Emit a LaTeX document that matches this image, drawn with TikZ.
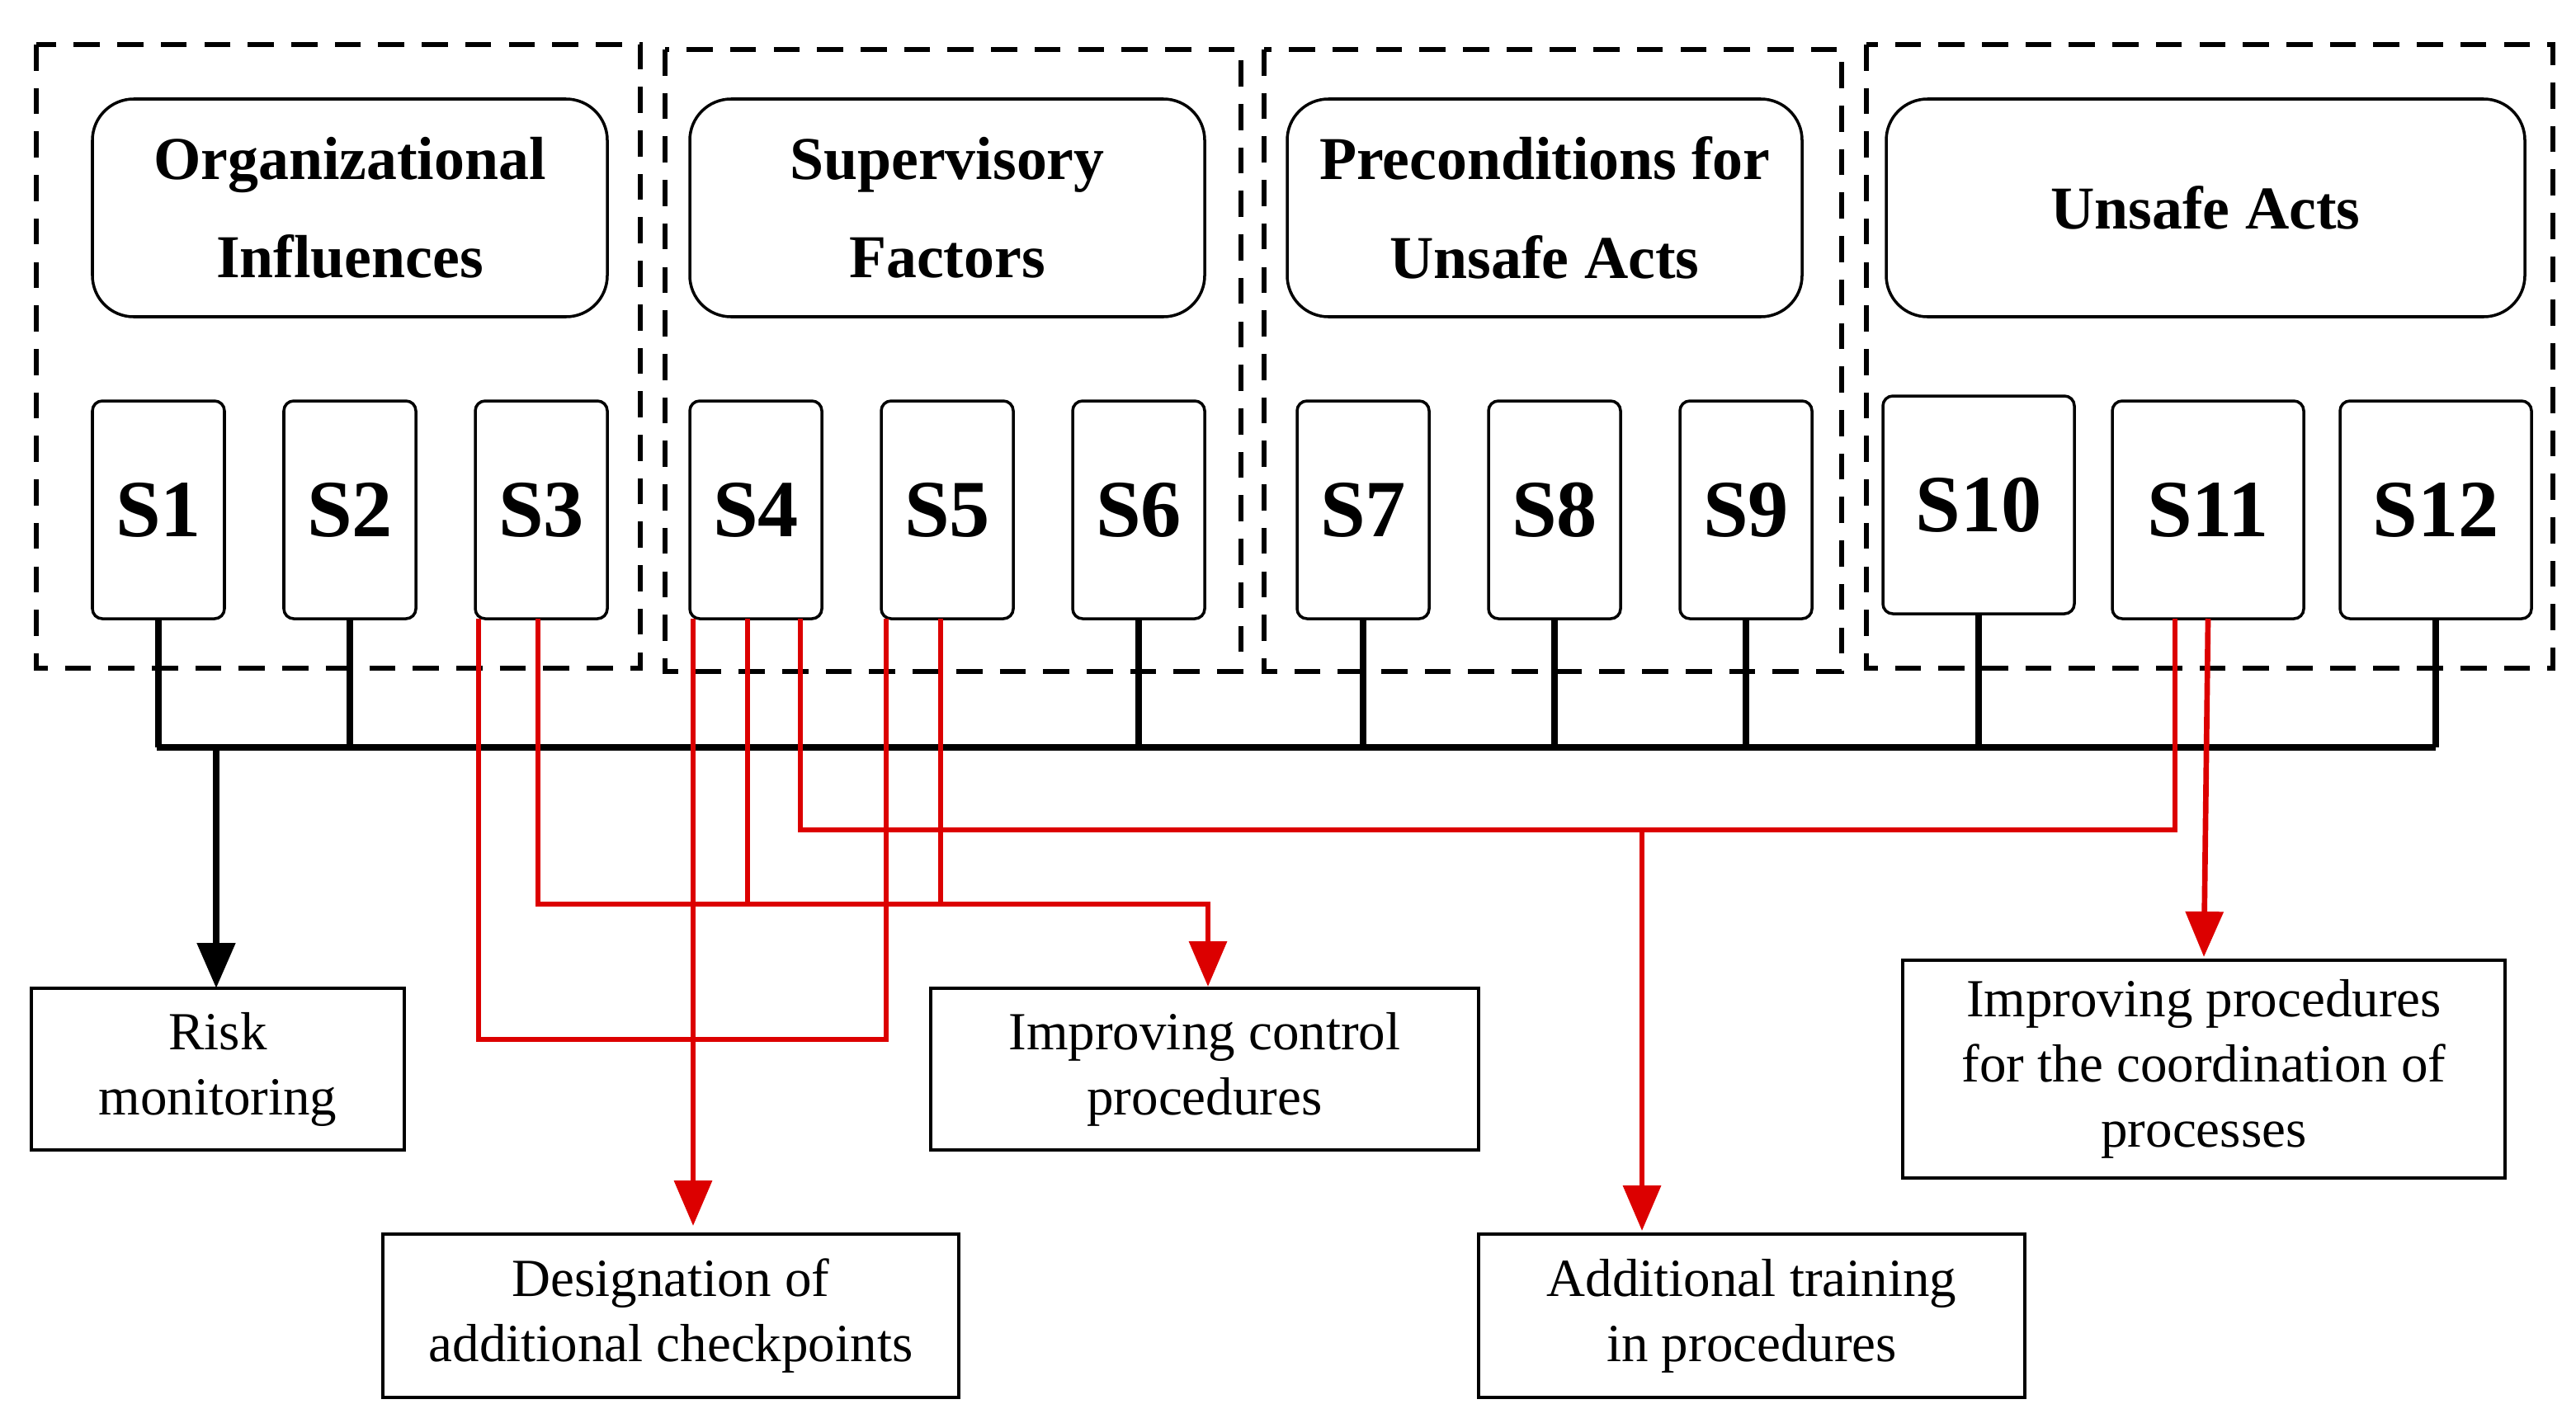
\documentclass[tikz,border=0pt]{standalone}
\usepackage{fontspec}
\setmainfont{Liberation Serif}
\usetikzlibrary{arrows.meta}
\newcommand\bx[7]{\node[#1, minimum width={(#4-#2)*0.02cm}, minimum height={(#5-#3)*0.02cm}] (#6) at ({(#2+#4)/2},{(#3+#5)/2}) {#7};}
\definecolor{myred}{RGB}{220,0,0}
\begin{document}
\begin{tikzpicture}[x=0.02cm,y=-0.02cm,
  base/.style={draw,inner sep=0pt,outer sep=0pt,line width=1pt,align=center},
  grp/.style={draw,dash pattern=on 9pt off 6pt,line width=1.6pt},
  head/.style={base,rounded corners=0.5cm,font=\fontsize{21}{34}\selectfont\bfseries},
  sb/.style={base,rounded corners=0.12cm,font=\fontsize{28}{30}\selectfont\bfseries},
  obox/.style={base,font=\fontsize{18.5}{22.5}\selectfont},
  blk/.style={line width=2.4pt},
  rline/.style={line width=1.9pt,draw=myred},
  arr/.style={-{Triangle[length=0.55cm,width=0.45cm]}}]
\useasboundingbox (0,0) rectangle (1561,862);
\draw[grp] (22,27) rectangle (388,405);
\draw[grp] (403,30) rectangle (752,407);
\draw[grp] (766,30) rectangle (1116,407);
\draw[grp] (1131,27) rectangle (1547,405);
\bx{head}{56}{60}{368}{192}{H1}{Organizational\\Influences}
\bx{head}{418}{60}{730}{192}{H2}{Supervisory\\Factors}
\bx{head}{780}{60}{1092}{192}{H3}{Preconditions for\\Unsafe Acts}
\bx{head}{1143}{60}{1530}{192}{H4}{Unsafe Acts}
\bx{sb}{56}{243}{136}{375}{S1}{S1}
\bx{sb}{172}{243}{252}{375}{S2}{S2}
\bx{sb}{288}{243}{368}{375}{S3}{S3}
\bx{sb}{418}{243}{498}{375}{S4}{S4}
\bx{sb}{534}{243}{614}{375}{S5}{S5}
\bx{sb}{650}{243}{730}{375}{S6}{S6}
\bx{sb}{786}{243}{866}{375}{S7}{S7}
\bx{sb}{902}{243}{982}{375}{S8}{S8}
\bx{sb}{1018}{243}{1098}{375}{S9}{S9}
\bx{sb}{1141}{240}{1257}{372}{S10}{S10}
\bx{sb}{1280}{243}{1396}{375}{S11}{S11}
\bx{sb}{1418}{243}{1534}{375}{S12}{S12}
\bx{obox}{19}{599}{245}{697}{O1}{Risk\\monitoring}
\bx{obox}{564}{599}{896}{697}{O2}{Improving control\\procedures}
\bx{obox}{232}{748}{581}{847}{O3}{Designation of\\additional checkpoints}
\bx{obox}{896}{748}{1227}{847}{O4}{Additional training\\in procedures}
\bx{obox}{1153}{582}{1518}{714}{O5}{Improving procedures\\for the coordination of\\processes}
\coordinate (busL) at (95,453);
\coordinate (busR) at (1476,453);
\draw[blk] (busL) -- (busR);
\foreach \s in {S1,S2,S6,S7,S8,S9,S10,S12}{\draw[blk] (\s.south) -- (\s.south |- busL);}
\draw[blk,arr] (131,453) -- (O1.north -| 131,0);
\coordinate (r1) at (290,630);
\draw[rline] ([xshift=0.04cm]S3.south west) -- ([xshift=0.04cm]S3.south west |- r1) -- ([xshift=0.06cm]S5.south west |- r1) -- ([xshift=0.06cm]S5.south west);
\coordinate (r2) at (326,548);
\draw[rline,arr] (S3.south -| r2) -- (r2) -- (732,548) -- ([yshift=0.02cm]O2.north -| 732,0);
\draw[rline] ([xshift=-0.1cm]S4.south) -- ([xshift=-0.1cm]S4.south |- r2);
\draw[rline] ([xshift=-0.08cm]S5.south) -- ([xshift=-0.08cm]S5.south |- r2);
\draw[rline,arr] ([xshift=0.04cm]S4.south west) -- ([xshift=0.04cm,yshift=0.1cm]S4.south west |- O3.north);
\coordinate (r3) at (485,503);
\draw[rline] ([xshift=-0.26cm]S4.south east) -- ([xshift=-0.26cm]S4.south east |- r3) -- ([xshift=-0.4cm]S11.south |- r3) -- ([xshift=-0.4cm]S11.south);
\draw[rline,arr] (995,503) -- ([yshift=0.04cm]O4.north -| 995,0);
\draw[rline,arr] (S11.south) -- ([yshift=0.04cm]O5.north);
\end{tikzpicture}
\end{document}
